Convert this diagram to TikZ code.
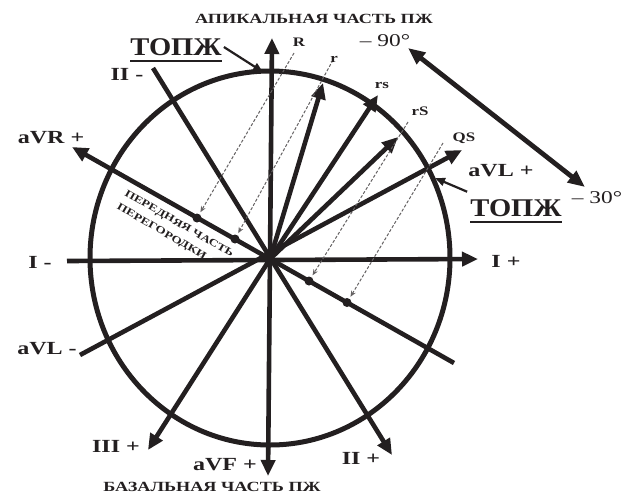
\documentclass[tikz,border=0pt]{standalone}
\usepackage{fontspec}
\setmainfont{Liberation Serif}
\newfontfamily\wf[FakeStretch=1.3]{Liberation Serif}
\newfontfamily\tf[FakeStretch=1.12]{Liberation Serif}
\usetikzlibrary{arrows.meta}
\definecolor{ink}{RGB}{35,31,32}
\begin{document}
\begin{tikzpicture}[x=1pt,y=-1pt,
  ax/.style={line width=4.6pt, draw=ink},
  tip/.style={-{Triangle[length=16pt,width=14pt]}},
  dsh/.style={draw=ink!70, line width=1pt, dash pattern=on 3pt off 1.8pt, -{Stealth[length=6pt,width=5pt]}, shorten >=2pt},
  lbl/.style={font=\wf\bfseries\fontsize{18.5}{20}\selectfont, inner sep=0pt, text=ink},
  vl/.style={font=\wf\bfseries\fontsize{13}{14}\selectfont, inner sep=0pt, text=ink},
  deg/.style={font=\wf\fontsize{18}{20}\selectfont, inner sep=0pt, text=ink},
  capt/.style={font=\wf\bfseries\fontsize{14}{16}\selectfont, inner sep=0pt, text=ink},
  topz/.style={font=\tf\bfseries\fontsize{25.5}{28}\selectfont, inner sep=0pt, text=ink},
  rottext/.style={font=\wf\bfseries\fontsize{10.2}{15.5}\selectfont, inner sep=0pt, text=ink, align=left},
  dotn/.style={circle, fill=ink, inner sep=0pt, minimum size=9pt},
  pointer/.style={draw=ink, line width=2.2pt, -{Triangle[length=10pt,width=8pt]}},
]
\path[use as bounding box] (0,0) rectangle (628,496);

% circle
\draw[line width=5pt, draw=ink] (270,258) ellipse [x radius=180pt, y radius=187pt];

% coordinates
\coordinate (O) at (270,259);
\coordinate (Ineg) at (67,261);
\coordinate (Ipos) at (478,259);
\coordinate (avfT) at (272,38);
\coordinate (avfB) at (268,476);
\coordinate (avrP) at (72,147);
\coordinate (avrN) at (454,363);
\coordinate (avlP) at (462,150);
\coordinate (avlN) at (80,355);
\coordinate (iiN) at (153,68);
\coordinate (iiP) at (392,455);
\coordinate (iiiP) at (148,450);
\coordinate (rT) at (323,83);
\coordinate (rsT) at (378,95);
\coordinate (rST) at (398,137);

% axes
\draw[ax,tip] (Ineg) -- (Ipos);
\draw[ax,{Triangle[length=16pt,width=14pt]}-{Triangle[length=16pt,width=14pt]}] (avfT) -- (avfB);
\draw[ax,tip] (avrN) -- (avrP);
\draw[ax,tip] (avlN) -- (avlP);
\draw[ax,tip] (iiN) -- (iiP);
\draw[ax,tip] (O) -- (iiiP);
\draw[ax,tip] (O) -- (rT);
\draw[ax,tip] (O) -- (rsT);
\draw[ax,tip] (O) -- (rST);

% projection dots
\node[dotn] (d1) at (197,218) {};
\node[dotn] (d2) at (235,239) {};
\node[dotn] (d3) at (309,281) {};
\node[dotn] (d4) at (347,302.5) {};

\coordinate (t1) at (294,53);
\coordinate (t2) at (333,60);
\coordinate (t3) at (408,122);
\coordinate (t4) at (443,143);
\draw[dsh] (t1) -- (d1);
\draw[dsh] (t2) -- (d2);
\draw[dsh] (t3) -- (d3);
\draw[dsh] (t4) -- (d4);

% rotated text
\node[rottext, rotate=-30] (ant) at (175,231) {ПЕРЕДНЯЯ ЧАСТЬ\\ПЕРЕГОРОДКИ};

% titles
\node[capt] (apex) at (314,19) {АПИКАЛЬНАЯ ЧАСТЬ ПЖ};
\node[capt] (base) at (212,487) {БАЗАЛЬНАЯ ЧАСТЬ ПЖ};

% TOPZh labels
\node[topz] (topL) at (176,47) {ТОПЖ};
\draw[draw=ink, line width=1.8pt] ([yshift=-5pt]topL.south west) -- ([yshift=-5pt]topL.south east);
\node[topz] (topR) at (516,208.5) {ТОПЖ};
\draw[draw=ink, line width=1.8pt] ([yshift=-5pt]topR.south west) -- ([yshift=-5pt]topR.south east);
\coordinate (pL) at (263,72);
\coordinate (pR) at (435,178);
\draw[pointer] (topL.east) ++(2,0) coordinate (qL) (qL) -- (pL);
\draw[pointer] (topR.north west) ++(-3,-8) coordinate (qR) (qR) -- (pR);

% vector labels
\node[vl] (lR) at (299,42) {R};
\node[vl] (lr) at (334,59) {r};
\node[vl] (lrs) at (382,85) {rs};
\node[vl] (lrS) at (420,111) {rS};
\node[vl] (lQS) at (464,138) {QS};

% degree labels and double arrow
\node[deg] (m90) at (385,41) {– 90°};
\node[deg] (m30) at (597,197.5) {– 30°};
\coordinate (a90) at (408,48);
\coordinate (a30) at (585,187);
\draw[draw=ink, line width=4.8pt, {Triangle[length=17pt,width=14pt]}-{Triangle[length=17pt,width=14pt]}] (a90) -- (a30);

% lead labels
\node[lbl] (lIIn) at (127,74) {II -};
\node[lbl] (laVRp) at (51,138) {aVR +};
\node[lbl] (lIn) at (40,262) {I -};
\node[lbl] (lIp) at (506,261) {I +};
\node[lbl] (laVLp) at (501,171) {aVL +};
\node[lbl] (laVLn) at (47,349) {aVL -};
\node[lbl] (lIIIp) at (116,446) {III +};
\node[lbl] (laVFp) at (225,465) {aVF +};
\node[lbl] (lIIp) at (361,458) {II +};
\end{tikzpicture}
\end{document}
